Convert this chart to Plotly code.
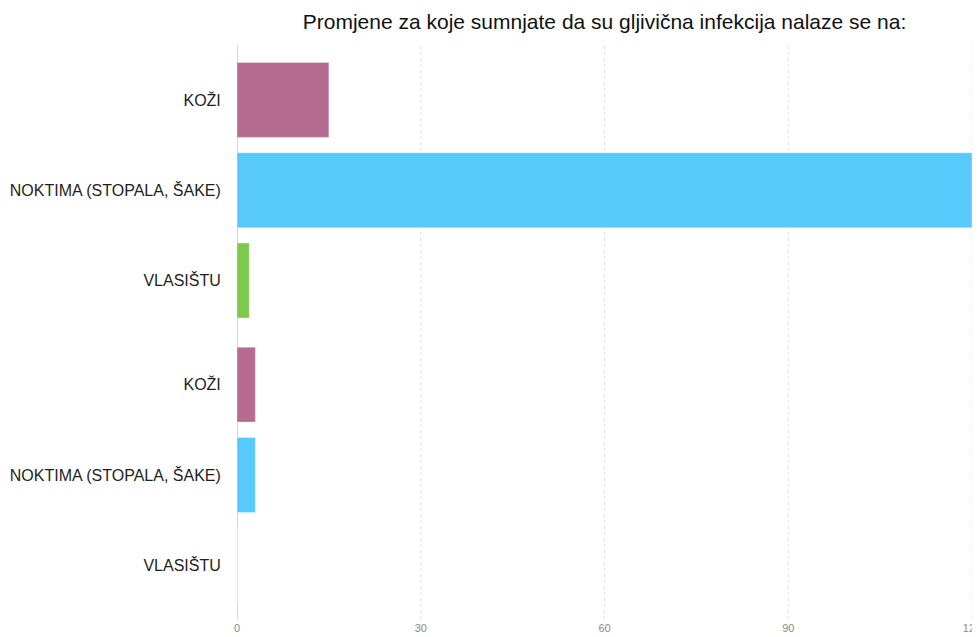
import plotly.graph_objects as go
from plotly.subplots import make_subplots

title_text = "Promjene za koje sumnjate da su gljivična infekcija nalaze se na:"
categories = ["KOŽI", "NOKTIMA (STOPALA, ŠAKE)", "VLASIŠTU"]
group1_values = [15, 120, 2]
group2_values = [3, 3, 0]
bar_colors = ["#b66b91", "#57c9fa", "#7cc94c"]
x_ticks = [0, 30, 60, 90, 120]

fig = make_subplots(rows=2, cols=1, shared_xaxes=True, vertical_spacing=0.0)

for row, vals in ((1, group1_values), (2, group2_values)):
    fig.add_trace(
        go.Bar(
            x=vals,
            y=categories,
            orientation="h",
            marker=dict(color=bar_colors, line=dict(color="rgba(255,255,255,0.35)", width=1)),
            showlegend=False,
            hoverinfo="x+y",
        ),
        row=row, col=1,
    )

yaxis_common = dict(
    type="category",
    autorange="reversed",
    automargin=False,
    showgrid=False,
    zeroline=False,
    showline=False,
    ticks="outside",
    ticklen=12,
    tickcolor="rgba(0,0,0,0)",
    tickfont=dict(family="Liberation Sans, Arial, sans-serif", size=16, color="#1e1e1e"),
)
fig.update_layout(
    yaxis=dict(domain=[0.511, 0.983], **yaxis_common),
    yaxis2=dict(domain=[0.015, 0.487], **yaxis_common),
)

xaxis_common = dict(range=[0, 120], showgrid=False, zeroline=False, showline=False,
                    automargin=False, tickvals=x_ticks, fixedrange=True)
fig.update_xaxes(**xaxis_common)
fig.update_xaxes(showticklabels=False, row=1, col=1)
fig.update_xaxes(
    showticklabels=True,
    ticklabeloverflow="allow",
    ticks="outside", ticklen=7, tickcolor="rgba(0,0,0,0)",
    tickfont=dict(family="Liberation Sans, Arial, sans-serif", size=11, color="#8a8a8a"),
    row=2, col=1,
)

shapes = []
for t in x_ticks:
    if t == 0:
        shapes.append(dict(type="line", xref="x2", yref="paper", x0=t, x1=t, y0=0, y1=1,
                           line=dict(color="#c8c8c8", width=1.5), layer="below"))
    else:
        shapes.append(dict(type="line", xref="x2", yref="paper", x0=t, x1=t, y0=0, y1=1,
                           line=dict(color="#e0e0e0", width=1, dash="dot"), layer="below"))

fig.update_layout(
    width=972,
    height=629,
    margin=dict(l=229, r=8, t=37, b=18),
    paper_bgcolor="white",
    plot_bgcolor="white",
    bargap=0.17,
    shapes=shapes,
    title=dict(
        text=title_text,
        x=0.5, xref="paper", xanchor="center",
        y=1 - 14 / 629, yref="container", yanchor="middle",
        font=dict(family="Liberation Sans, Arial, sans-serif", size=21, color="#111111"),
    ),
)

fig.write_html("out.html")
